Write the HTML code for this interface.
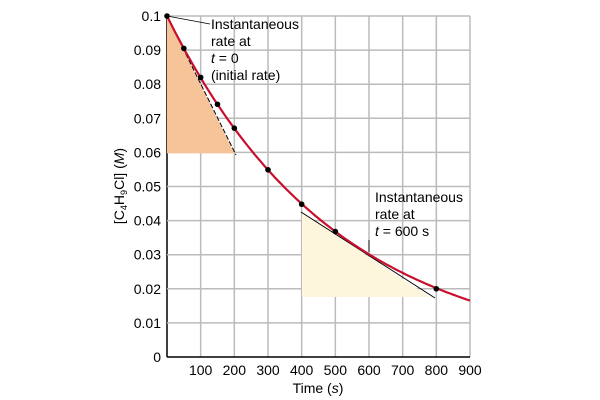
<!DOCTYPE html>
<html><head><style>body{margin:0;background:#fff}svg{display:block}text{font-family:"Liberation Sans",sans-serif;font-size:14px;fill:#000}</style></head><body>
<svg width="600" height="400" viewBox="0 0 600 400">
<g id="grid" stroke="#bbb" stroke-width="1.5" fill="none"></g>
<polygon points="167,16 167,153.4 234.3,153.4" fill="#f7c49a"/>
<polygon points="302,213 302,297 430,297" fill="#fdf6dc"/>
<line x1="167" y1="16" x2="236" y2="155" stroke="#000" stroke-width="1" stroke-dasharray="5,2"/>
<line x1="301" y1="212" x2="435" y2="298" stroke="#000" stroke-width="1"/>
<path id="curve" fill="none" stroke="#c8102e" stroke-width="2.2"/>
<g id="pts" fill="#000"></g>
<line x1="167" y1="16" x2="210" y2="24" stroke="#000" stroke-width="0.8"/>
<line x1="369" y1="240" x2="369" y2="252" stroke="#000" stroke-width="0.8"/>
<text x="211" y="29">Instantaneous</text>
<text x="211" y="46">rate at</text>
<text x="211" y="63"><tspan font-style="italic">t</tspan> = 0</text>
<text x="211" y="80">(initial rate)</text>
<text x="375" y="202">Instantaneous</text>
<text x="375" y="219">rate at</text>
<text x="375" y="236"><tspan font-style="italic">t</tspan> = 600 s</text>
<g id="lab"></g>
<text x="318" y="393" text-anchor="middle">Time (<tspan font-style="italic">s</tspan>)</text>
<text transform="translate(124,186) rotate(-90)" text-anchor="middle">[C<tspan font-size="9" dy="3">4</tspan><tspan dy="-3">H</tspan><tspan font-size="9" dy="3">9</tspan><tspan dy="-3">Cl] (</tspan><tspan font-style="italic">M</tspan>)</text>
</svg>
<script>
const X=t=>167+t*0.33667,Y=c=>357-3410*c,ns="http://www.w3.org/2000/svg";
const g=document.getElementById('grid'),lab=document.getElementById('lab');
function el(p,n,a,txt){const e=document.createElementNS(ns,n);for(const k in a)e.setAttribute(k,a[k]);if(txt)e.textContent=txt;p.appendChild(e);}
for(let i=0;i<=9;i++){el(g,'line',{x1:X(i*100),y1:Y(0),x2:X(i*100),y2:Y(0.1),stroke:i==0?'#000':'#bbb'});if(i>0)el(lab,'text',{x:X(i*100),y:375,'text-anchor':'middle'},String(i*100));}
for(let i=0;i<=10;i++){el(g,'line',{x1:X(0),y1:Y(i/100),x2:X(900),y2:Y(i/100),stroke:i==0?'#000':'#bbb'});el(lab,'text',{x:161,y:Y(i/100)+5,'text-anchor':'end'},i==0?'0':i==10?'0.1':'0.0'+i);}
let d='';for(let t=0;t<=900;t+=10){d+=(t?'L':'M')+X(t).toFixed(1)+','+Y(0.1*Math.exp(-0.002*t)).toFixed(1);}
document.getElementById('curve').setAttribute('d',d);
[[0,.1],[50,.0905],[100,.082],[150,.0741],[200,.0671],[300,.0549],[400,.0448],[500,.0368],[800,.02]].forEach(p=>el(document.getElementById('pts'),'circle',{cx:X(p[0]),cy:Y(p[1]),r:2.8}));
</script>
</body></html>
